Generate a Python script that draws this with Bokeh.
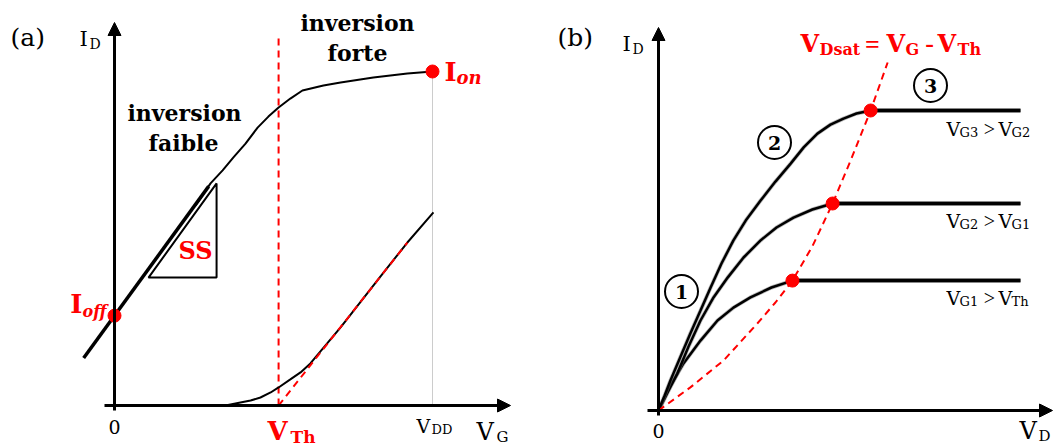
from bokeh.plotting import figure
from bokeh.models import Range1d, Arrow, NormalHead
from bokeh.layouts import row
from bokeh.core.properties import value
from bokeh.embed import file_html
from bokeh.resources import INLINE

FONT = "DejaVu Serif"
FONT2 = "Liberation Serif"
RED = "#ff0000"

# ---------------- panel (a): I_D vs V_G (normalised: V_DD = 1, I_on = 1)
vg_log = [0.255, 0.302, 0.340, 0.374, 0.412, 0.450, 0.484, 0.516, 0.553, 0.591,
          0.657, 0.711, 0.814, 0.921, 1.0]
id_log = [0.599, 0.665, 0.704, 0.743, 0.784, 0.832, 0.865, 0.892, 0.919, 0.943,
          0.958, 0.967, 0.982, 0.994, 1.0]
vg_lin = [0.0, 0.349, 0.396, 0.428, 0.459, 0.491, 0.516, 0.553, 0.585, 0.616,
          0.711, 0.836, 0.921, 1.003]
id_lin = [0.0, 0.0, 0.009, 0.015, 0.024, 0.039, 0.054, 0.078, 0.099, 0.126,
          0.234, 0.386, 0.488, 0.578]
vg_ss = [-0.097, 0.296]
id_ss = [0.142, 0.656]
vg_tan = [0.516, 0.921]
id_tan = [0.0, 0.488]
tri_x = [0.107, 0.321, 0.321]
tri_y = [0.383, 0.383, 0.665]
v_th = 0.516
v_dd = 1.0
i_off = 0.269
i_on = 1.0

# ---------------- panel (b): I_D vs V_D (normalised)
vd_1 = [0.0, 0.033, 0.069, 0.116, 0.163, 0.207, 0.254, 0.312, 0.370, 1.0]
id_1 = [0.0, 0.083, 0.157, 0.233, 0.300, 0.343, 0.377, 0.410, 0.433, 0.433]
vd_2 = [0.0, 0.025, 0.052, 0.083, 0.116, 0.152, 0.191, 0.235, 0.282, 0.326,
        0.373, 0.425, 0.481, 1.0]
id_2 = [0.0, 0.060, 0.123, 0.213, 0.300, 0.377, 0.443, 0.510, 0.567, 0.610,
        0.643, 0.670, 0.690, 0.690]
vd_3 = [0.0, 0.017, 0.033, 0.061, 0.088, 0.116, 0.144, 0.174, 0.207, 0.243,
        0.282, 0.323, 0.365, 0.401, 0.439, 0.475, 0.511, 0.547, 0.586, 1.0]
id_3 = [0.0, 0.050, 0.100, 0.180, 0.257, 0.333, 0.410, 0.490, 0.567, 0.637,
        0.700, 0.763, 0.823, 0.877, 0.923, 0.953, 0.973, 0.990, 1.0, 1.0]
vdsat_x = [0.0, 0.088, 0.180, 0.273, 0.323, 0.370, 0.425, 0.481, 0.533, 0.586, 0.633]
vdsat_y = [0.0, 0.077, 0.167, 0.290, 0.360, 0.433, 0.547, 0.690, 0.840, 1.0, 1.160]
curve_labels = ["1", "2", "3"]


def LX(px):
    return (px - 114) / 318


def LY(py):
    return (405 - py) / 334


def RX(px):
    return (px - 658) / 362


def RY(py):
    return (410 - py) / 300


def txt(p, x, y, s, size, style="normal", color="black", align="left", font=FONT):
    p.text(x=[x], y=[y], text=[s], text_font=value(font),
           text_font_size=f"{size}px", text_font_style=style,
           text_color=color, text_align=align, text_baseline="middle")


def make_fig(width, x0, x1, y0, y1):
    p = figure(width=width, height=446, x_range=Range1d(x0, x1),
               y_range=Range1d(y0, y1), output_backend="svg",
               toolbar_location=None, x_axis_type=None, y_axis_type=None,
               min_border=0, title=None)
    p.grid.visible = False
    p.outline_line_color = None
    p.background_fill_color = "white"
    return p


def arrow(p, xs, ys, xe, ye):
    p.add_layout(Arrow(end=NormalHead(size=13, fill_color="black", line_color="black"),
                       x_start=xs, y_start=ys, x_end=xe, y_end=ye,
                       line_width=3, line_color="black"))


# ======================= panel (a)
pa = make_fig(540, LX(0), LX(540), LY(446), LY(0))
arrow(pa, 0, LY(410), 0, LY(22))
arrow(pa, LX(104), 0, LX(510), 0)
pa.line([v_dd, v_dd], [0, i_on], line_color="#999999", line_width=1, line_dash="1 1")
pa.line([v_th, v_th], [0, LY(38)], line_color=RED, line_width=2, line_dash="7 5")
pa.patch(tri_x, tri_y, fill_color=None, line_color="black", line_width=2)
pa.line(vg_log, id_log, line_color="black", line_width=2)
pa.line(vg_lin, id_lin, line_color="black", line_width=2)
pa.line(vg_ss, id_ss, line_color="black", line_width=3.5)
pa.line(vg_tan, id_tan, line_color=RED, line_width=2, line_dash="7 5")
pa.scatter([0, v_dd], [i_off, i_on], size=13, color=RED)

txt(pa, LX(10), LY(37), "(a)", 25)
txt(pa, LX(79), LY(38), "I", 21)
txt(pa, LX(89), LY(43), "D", 14)
txt(pa, LX(184), LY(112), "inversion", 22, "bold", align="center")
txt(pa, LX(183), LY(142), "faible", 22, "bold", align="center")
txt(pa, LX(357), LY(22), "inversion", 22, "bold", align="center")
txt(pa, LX(357), LY(52), "forte", 22, "bold", align="center")
txt(pa, LX(444), LY(71), "I", 26, "bold", RED)
txt(pa, LX(456), LY(77), "on", 18, "bold italic", RED)
txt(pa, LX(82), LY(303), "I", 26, "bold", RED, align="right")
txt(pa, LX(106), LY(311), "off", 16, "bold italic", RED, align="right")
txt(pa, LX(195), LY(250), "SS", 24, "bold", RED, align="center")
txt(pa, 0, LY(426), "0", 19, align="center")
txt(pa, LX(267), LY(430), "V", 26, "bold", RED)
txt(pa, LX(290), LY(436), "Th", 17, "bold", RED)
txt(pa, LX(416), LY(425), "V", 19)
txt(pa, LX(431), LY(429), "DD", 13)
txt(pa, LX(476), LY(431), "V", 24)
txt(pa, LX(496), LY(436), "G", 15)

# ======================= panel (b)
pb = make_fig(514, RX(540), RX(1054), RY(446), RY(0))
arrow(pb, 0, RY(415), 0, RY(27))
arrow(pb, RX(647), 0, RX(1052), 0)

for vx, iy in ((vd_1, id_1), (vd_2, id_2), (vd_3, id_3)):
    k = len(vx) - 2
    pb.line(vx[:k + 1], iy[:k + 1], line_color="#777777", line_width=4, line_alpha=0.5)
    pb.line(vx[:k + 1], iy[:k + 1], line_color="black", line_width=2.5)
    pb.line(vx[k:], iy[k:], line_color="#888888", line_width=5)
    pb.line(vx[k:], iy[k:], line_color="black", line_width=3)

pb.line(vdsat_x, vdsat_y, line_color=RED, line_width=2, line_dash="7 5")
pb.scatter([vd_1[-2], vd_2[-2], vd_3[-2]], [id_1[-2], id_2[-2], id_3[-2]], size=13, color=RED)

cx = [RX(681), RX(774), RX(930)]
cy = [RY(291), RY(142), RY(85)]
pb.scatter(cx, cy, size=33, marker="circle", fill_color="white", line_color="black", line_width=2)
pb.text(x=cx, y=cy, text=curve_labels, text_font=value(FONT), text_font_size="19px",
        text_font_style="bold", text_align="center", text_baseline="middle", text_color="black")

txt(pb, RX(557), RY(37), "(b)", 25)
txt(pb, RX(622), RY(43), "I", 21)
txt(pb, RX(632), RY(48), "D", 14)
txt(pb, 0, RY(430), "0", 19, align="center")
txt(pb, RX(1019), RY(430), "V", 24)
txt(pb, RX(1038), RY(435), "D", 15)

# V_Dsat = V_G - V_Th
txt(pb, RX(800), RY(43), "V", 24, "bold", RED)
txt(pb, RX(819), RY(49), "Dsat", 16, "bold", RED)
txt(pb, RX(872), RY(44), "=", 26, "bold", RED, align="center", font=FONT2)
txt(pb, RX(886), RY(43), "V", 24, "bold", RED)
txt(pb, RX(905), RY(49), "G", 16, "bold", RED)
txt(pb, RX(929), RY(43), "-", 26, "bold", RED, align="center", font=FONT2)
txt(pb, RX(937), RY(43), "V", 24, "bold", RED)
txt(pb, RX(957), RY(49), "Th", 16, "bold", RED)

for yc, s1, s2 in ((128, "G3", "G2"), (220, "G2", "G1"), (297, "G1", "Th")):
    txt(pb, RX(946), RY(yc), "V", 19)
    txt(pb, RX(959), RY(yc + 4), s1, 13)
    txt(pb, RX(989), RY(yc), ">", 20, align="center", font=FONT2)
    txt(pb, RX(998), RY(yc), "V", 19)
    txt(pb, RX(1011), RY(yc + 4), s2, 13)

layout = row(pa, pb)
open("out.html", "w").write(file_html(layout, INLINE))
